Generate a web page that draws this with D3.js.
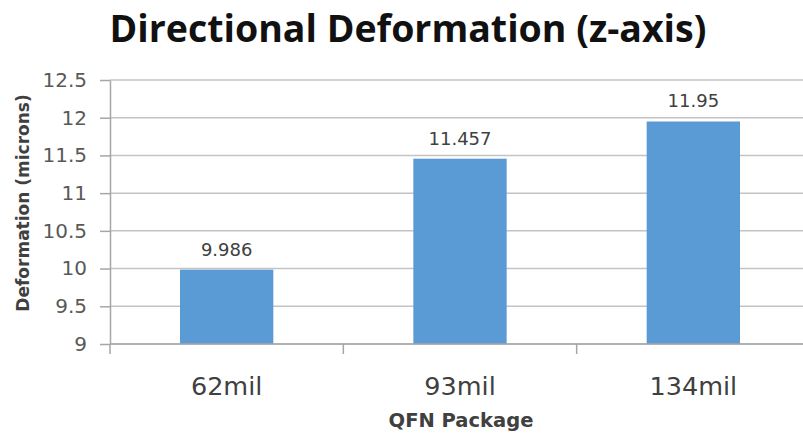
<!DOCTYPE html>
<html>
<head>
<meta charset="utf-8">
<script src="https://cdn.jsdelivr.net/npm/d3@7"></script>
<style>
  html, body { margin: 0; padding: 0; background: #fff; }
  svg { display: block; }
  text { font-family: "DejaVu Sans", sans-serif; }
</style>
</head>
<body>
<svg id="chart" width="803" height="436"></svg>
<script>
// Deformation along z for each QFN package thickness
const categories = ["62mil", "93mil", "134mil"];
const deformation = [9.986, 11.457, 11.95];
const yTicks = [9, 9.5, 10, 10.5, 11, 11.5, 12, 12.5];

const svg = d3.select("#chart");
const width = 803, height = 436;
const plotLeft = 110, plotRight = 810;
const plotTop = 80, plotBottom = 344;

const x = d3.scaleBand()
  .domain(categories)
  .range([plotLeft, plotRight])
  .paddingInner(0.6)
  .paddingOuter(0.3);

const y = d3.scaleLinear()
  .domain([9, 12.5])
  .range([plotBottom, plotTop]);

// Horizontal gridlines across the plot
svg.append("g")
  .selectAll("line")
  .data(yTicks)
  .join("line")
  .attr("x1", plotLeft)
  .attr("x2", width)
  .attr("y1", d => y(d))
  .attr("y2", d => y(d))
  .attr("stroke", "#c4c4c4")
  .attr("stroke-width", 1.5);

// Y axis
const yAxis = svg.append("g")
  .attr("transform", `translate(${plotLeft},0)`)
  .call(d3.axisLeft(y).tickValues(yTicks).tickSize(10).tickSizeOuter(0).tickPadding(13).tickFormat(d3.format("~g")));
yAxis.select(".domain").attr("stroke", "#a6a6a6").attr("stroke-width", 1.5);
yAxis.selectAll(".tick line").attr("stroke", "#a6a6a6").attr("stroke-width", 1.5);
yAxis.selectAll("text")
  .attr("fill", "#595959")
  .style("font-family", "DejaVu Sans")
  .style("font-size", "20px");

// Bars
svg.append("g")
  .selectAll("rect")
  .data(deformation)
  .join("rect")
  .attr("x", (d, i) => x(categories[i]))
  .attr("width", x.bandwidth())
  .attr("y", d => y(d))
  .attr("height", d => plotBottom - y(d))
  .attr("fill", "#5b9bd5");

// Value labels above bars
svg.append("g")
  .selectAll("text")
  .data(deformation)
  .join("text")
  .attr("x", (d, i) => x(categories[i]) + x.bandwidth() / 2)
  .attr("y", d => y(d) - 14)
  .attr("text-anchor", "middle")
  .attr("fill", "#404040")
  .style("font-size", "18px")
  .text(d => d);

// X axis with boundary ticks between categories
const xAxisG = svg.append("g").attr("transform", `translate(0,${plotBottom})`);
xAxisG.append("line")
  .attr("x1", plotLeft).attr("x2", width)
  .attr("stroke", "#a6a6a6").attr("stroke-width", 1.5);
const boundaries = d3.range(categories.length).map(i => plotLeft + i * (plotRight - plotLeft) / categories.length);
xAxisG.selectAll(".tick")
  .data(boundaries)
  .join("line")
  .attr("x1", d => d).attr("x2", d => d)
  .attr("y1", 0).attr("y2", 10)
  .attr("stroke", "#a6a6a6").attr("stroke-width", 1.5);
xAxisG.selectAll(".cat")
  .data(categories)
  .join("text")
  .attr("x", d => x(d) + x.bandwidth() / 2)
  .attr("y", 51)
  .attr("text-anchor", "middle")
  .attr("fill", "#404040")
  .style("font-size", "25.5px")
  .text(d => d);

// Axis titles
svg.append("text")
  .attr("x", 461).attr("y", 427)
  .attr("text-anchor", "middle")
  .attr("fill", "#404040")
  .style("font-size", "19.5px")
  .style("font-weight", "bold")
  .text("QFN Package");

svg.append("text")
  .attr("transform", "translate(29,203) rotate(-90)")
  .attr("text-anchor", "middle")
  .attr("fill", "#404040")
  .style("font-size", "17px")
  .style("font-weight", "bold")
  .text("Deformation (microns)");

// Chart title
svg.append("text")
  .attr("x", 408).attr("y", 42)
  .attr("text-anchor", "middle")
  .attr("fill", "#111111")
  .style("font-family", "'Open Sans', sans-serif")
  .style("font-size", "37.5px")
  .style("font-weight", "bold")
  .text("Directional Deformation (z-axis)");
</script>
</body>
</html>
